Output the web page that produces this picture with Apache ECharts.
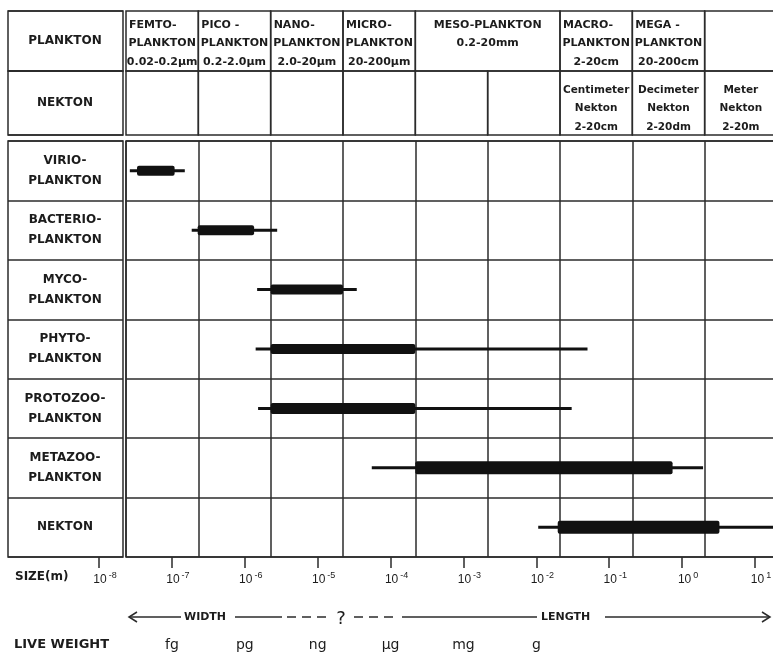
<!DOCTYPE html>
<html>
<head>
<meta charset="utf-8">
<title>Plankton size classes</title>
<script src="https://cdn.jsdelivr.net/npm/echarts@6/dist/echarts.min.js"></script>
<style>
  html, body { margin: 0; padding: 0; background: #fff; }
  #chart { width: 773px; height: 656px; }
</style>
</head>
<body>
<div id="chart"></div>
<script>
// rows of the body table
const groups = [
  'VIRIO-\nPLANKTON',
  'BACTERIO-\nPLANKTON',
  'MYCO-\nPLANKTON',
  'PHYTO-\nPLANKTON',
  'PROTOZOO-\nPLANKTON',
  'METAZOO-\nPLANKTON',
  'NEKTON'
];
// size ranges in metres (thin line = full range, thick bar = usual range)
const rangeMin = [1.13e-8, 8.1e-8, 6.5e-7, 6.2e-7, 6.7e-7, 2.5e-5, 5.0e-3];
const coreMin = [1.42e-8, 9.8e-8, 1.0e-6, 1.0e-6, 1.0e-6, 1.0e-4, 9.3e-3];
const coreMax = [4.7e-8, 5.9e-7, 1.0e-5, 1.0e-4, 1.0e-4, 0.36, 1.6];
const rangeMax = [6.5e-8, 1.23e-6, 1.55e-5, 2.4e-2, 1.45e-2, 0.95, 15];

// header cells: [from (m), to (m), text]
const planktonCells = [
  [1e-8, 1e-7, 'FEMTO-\nPLANKTON\n0.02-0.2µm'],
  [1e-7, 1e-6, 'PICO -\nPLANKTON\n0.2-2.0µm'],
  [1e-6, 1e-5, 'NANO-\nPLANKTON\n2.0-20µm'],
  [1e-5, 1e-4, 'MICRO-\nPLANKTON\n20-200µm'],
  [1e-4, 1e-2, 'MESO-PLANKTON\n0.2-20mm'],
  [1e-2, 1e-1, 'MACRO-\nPLANKTON\n2-20cm'],
  [1e-1, 1, 'MEGA -\nPLANKTON\n20-200cm'],
  [1, 10, '']
];
const nektonCells = [
  [1e-8, 1e-7, ''],
  [1e-7, 1e-6, ''],
  [1e-6, 1e-5, ''],
  [1e-5, 1e-4, ''],
  [1e-4, 1e-3, ''],
  [1e-3, 1e-2, ''],
  [1e-2, 1e-1, 'Centimeter\nNekton\n2-20cm'],
  [1e-1, 1, 'Decimeter\nNekton\n2-20dm'],
  [1, 10, 'Meter\nNekton\n2-20m']
];

// live weight units under the size scale
const weightExp = [-7, -6, -5, -4, -3, -2];
const weightUnit = ['fg', 'pg', 'ng', 'µg', 'mg', 'g'];

const LINE = '#2b2b2b';
const INK = '#1c1c1c';
const BAR = '#111';
const coreHeight = [10, 10, 10, 10, 11, 13, 13];
const BOLD = '"DejaVu Sans", sans-serif';
const TABLE_W = 651; // 10^-8 .. 10^1, right edge just past the picture

const chart = echarts.init(document.getElementById('chart'));

const gridLine = { show: true, lineStyle: { color: LINE, width: 1.5 } };
const hiddenValue = (g) => ({ gridIndex: g, type: 'value', show: false });
const logAxis = (g, extra) => Object.assign({
  gridIndex: g, type: 'log', min: 1e-8, max: 10, splitNumber: 9,
  axisLine: { show: false }, axisTick: { show: false },
  axisLabel: { show: false }, splitLine: { show: false }
}, extra);
const labelAxis = (g, names) => ({
  gridIndex: g, type: 'category', data: names, inverse: true,
  axisLine: { show: false }, axisTick: { show: false },
  splitLine: Object.assign({ interval: 0 }, gridLine),
  axisLabel: {
    inside: true, align: 'center', margin: 57, interval: 0,
    color: INK, fontFamily: BOLD, fontWeight: 'bold', fontSize: 12, lineHeight: 20
  }
});
const box = (rect, framed) => Object.assign({
  outerBoundsMode: 'none', containLabel: false,
  show: !!framed, borderColor: LINE, borderWidth: 1.5
}, rect);

function cellRenderer(cells, firstLine, fontSize) {
  return function (params, api) {
    const c = cells[params.dataIndex];
    const cs = params.coordSys;
    const x0 = api.coord([c[0], 0])[0];
    const x1 = api.coord([c[1], 0])[0];
    const children = [{
      type: 'rect',
      shape: { x: x0, y: cs.y, width: x1 - x0, height: cs.height },
      style: { fill: 'none', stroke: LINE, lineWidth: 1.5 }
    }];
    c[2].split('\n').forEach((t, i) => {
      if (!t) return;
      const left = /-\s*$/.test(t);
      children.push({
        type: 'text',
        style: {
          text: t, x: left ? x0 + 3 : (x0 + x1) / 2, y: cs.y + firstLine + i * 18.5,
          align: left ? 'left' : 'center', verticalAlign: 'middle',
          font: 'bold ' + fontSize + 'px ' + BOLD, fill: INK
        }
      });
    });
    return { type: 'group', children };
  };
}

function renderRange(params, api) {
  const row = api.value(0);
  const a = api.coord([api.value(1), row]);
  const b = api.coord([api.value(2), row]);
  const c = api.coord([api.value(3), row]);
  const d = api.coord([api.value(4), row]);
  const h = coreHeight[params.dataIndex];
  return {
    type: 'group',
    children: [
      { type: 'rect', shape: { x: a[0], y: a[1] - 1.5, width: d[0] - a[0], height: 3 }, style: { fill: BAR } },
      { type: 'rect', shape: { x: b[0], y: b[1] - h / 2, width: c[0] - b[0], height: h, r: 2 }, style: { fill: BAR } }
    ]
  };
}

const exponent = (v) => Math.round(Math.log10(v));
const arrowY = 617;
const stroke = { stroke: LINE, lineWidth: 1.5 };

const option = {
  animation: false,
  backgroundColor: '#fff',
  grid: [
    box({ left: 8, width: 115, top: 11, height: 60 }, true),
    box({ left: 8, width: 115, top: 71, height: 64 }, true),
    box({ left: 126, width: TABLE_W, top: 11, height: 60 }),
    box({ left: 126, width: TABLE_W, top: 71, height: 64 }),
    box({ left: 8, width: 115, top: 141, height: 416 }, true),
    box({ left: 126, width: TABLE_W, top: 141, height: 416 }, true),
    box({ left: 99, width: 656, top: 556, height: 1 })
  ],
  xAxis: [
    hiddenValue(0),
    hiddenValue(1),
    logAxis(2),
    logAxis(3),
    hiddenValue(4),
    logAxis(5, { splitLine: gridLine }),
    logAxis(6, {
      position: 'bottom',
      axisTick: { show: true, length: 11, lineStyle: { color: LINE, width: 1.5 } },
      axisLabel: {
        show: true, margin: 14, interval: 0,
        formatter: (v) => '{p|}{b|10}{s|' + exponent(v) + '}',
        rich: {
          p: { width: 12 },
          b: { fontFamily: 'Liberation Sans', fontSize: 12, color: INK },
          s: { fontFamily: 'Liberation Sans', fontSize: 9, color: INK, padding: [0, 0, 8, 2] }
        }
      }
    }),
    logAxis(6, {
      position: 'bottom',
      axisLabel: {
        show: true, margin: 81, interval: 0,
        fontFamily: 'DejaVu Sans', fontSize: 14, color: INK,
        formatter: (v) => {
          const k = weightExp.indexOf(exponent(v));
          return k < 0 ? '' : weightUnit[k];
        }
      }
    })
  ],
  yAxis: [
    labelAxis(0, ['PLANKTON']),
    labelAxis(1, ['NEKTON']),
    { gridIndex: 2, type: 'category', data: ['p'], show: false },
    { gridIndex: 3, type: 'category', data: ['n'], show: false },
    labelAxis(4, groups),
    {
      gridIndex: 5, type: 'category', data: groups, inverse: true,
      axisLine: { show: false }, axisTick: { show: false }, axisLabel: { show: false },
      splitLine: Object.assign({ interval: 0 }, gridLine)
    },
    hiddenValue(6)
  ],
  series: [
    {
      type: 'custom', xAxisIndex: 2, yAxisIndex: 2,
      data: planktonCells.map((c) => [c[0], c[1]]),
      encode: { x: [0, 1] },
      renderItem: cellRenderer(planktonCells, 14, 11)
    },
    {
      type: 'custom', xAxisIndex: 3, yAxisIndex: 3,
      data: nektonCells.map((c) => [c[0], c[1]]),
      encode: { x: [0, 1] },
      renderItem: cellRenderer(nektonCells, 19, 10.5)
    },
    {
      type: 'custom', xAxisIndex: 5, yAxisIndex: 5,
      data: groups.map((g, i) => [i, rangeMin[i], coreMin[i], coreMax[i], rangeMax[i]]),
      encode: { x: [1, 2, 3, 4], y: 0 },
      renderItem: renderRange
    }
  ],
  graphic: [
    { type: 'text', left: 15, top: 571, style: { text: 'SIZE(m)', font: 'bold 12px ' + BOLD, fill: INK } },
    { type: 'polyline', shape: { points: [[137, arrowY - 5], [129, arrowY], [137, arrowY + 5]] }, style: Object.assign({ fill: 'none' }, stroke) },
    { type: 'line', shape: { x1: 129, y1: arrowY, x2: 181, y2: arrowY }, style: stroke },
    { type: 'text', x: 184, y: arrowY, style: { text: 'WIDTH', font: 'bold 11px ' + BOLD, fill: INK, verticalAlign: 'middle' } },
    { type: 'line', shape: { x1: 235, y1: arrowY, x2: 282, y2: arrowY }, style: stroke },
    { type: 'line', shape: { x1: 287, y1: arrowY, x2: 327, y2: arrowY }, style: Object.assign({ lineDash: [9, 6] }, stroke) },
    { type: 'text', x: 341, y: arrowY + 2, style: { text: '?', font: '18px "DejaVu Sans"', fill: INK, align: 'center', verticalAlign: 'middle' } },
    { type: 'line', shape: { x1: 354, y1: arrowY, x2: 398, y2: arrowY }, style: Object.assign({ lineDash: [9, 6] }, stroke) },
    { type: 'line', shape: { x1: 402, y1: arrowY, x2: 537, y2: arrowY }, style: stroke },
    { type: 'text', x: 541, y: arrowY, style: { text: 'LENGTH', font: 'bold 11px ' + BOLD, fill: INK, verticalAlign: 'middle' } },
    { type: 'line', shape: { x1: 605, y1: arrowY, x2: 770, y2: arrowY }, style: stroke },
    { type: 'polyline', shape: { points: [[762, arrowY - 5], [770, arrowY], [762, arrowY + 5]] }, style: Object.assign({ fill: 'none' }, stroke) },
    { type: 'text', left: 14, top: 638, style: { text: 'LIVE WEIGHT', font: 'bold 13px ' + BOLD, fill: INK } }
  ]
};

chart.setOption(option);
window.addEventListener('resize', () => chart.resize());
</script>
</body>
</html>
